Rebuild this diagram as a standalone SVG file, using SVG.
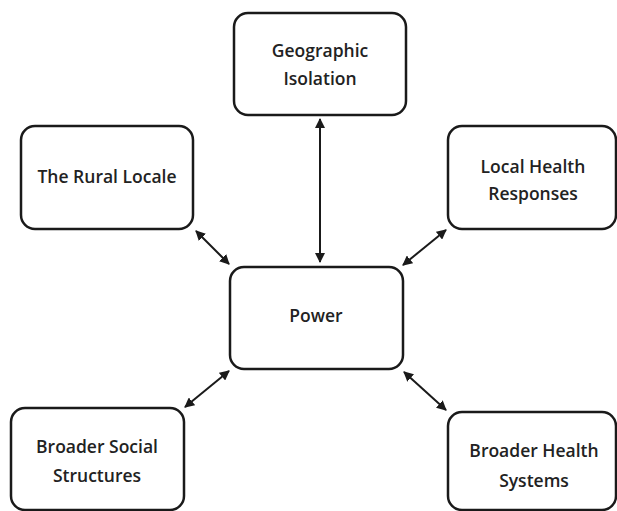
<svg xmlns="http://www.w3.org/2000/svg" width="617" height="511" viewBox="0 0 617 511">
  <style>
    .box { fill: #ffffff; stroke: #1a1a1a; stroke-width: 2.5; }
    .label { font-family: "Open Sans", "Liberation Sans", sans-serif; font-size: 17.5px; font-weight: 600; fill: #222222; text-anchor: middle; }
    .link { stroke: #1a1a1a; stroke-width: 2; fill: none; marker-start: url(#head); marker-end: url(#head); }
  </style>
  <defs>
    <marker id="head" viewBox="0 0 10 10" refX="9" refY="5" markerWidth="5" markerHeight="5" orient="auto-start-reverse" markerUnits="strokeWidth">
      <path d="M0,0 L10,5 L0,10 Z" fill="#1a1a1a"/>
    </marker>
  </defs>
  <rect width="617" height="511" fill="#ffffff"/>

  <g id="connectors">
    <line class="link" x1="320" y1="119" x2="320" y2="262"/>
    <line class="link" x1="196" y1="231" x2="229" y2="264"/>
    <line class="link" x1="446" y1="230" x2="403" y2="265"/>
    <line class="link" x1="229" y1="371" x2="185" y2="407"/>
    <line class="link" x1="404" y1="372" x2="446" y2="410"/>
  </g>

  <g id="geographic-isolation">
    <rect class="box" x="234" y="13" width="172" height="102" rx="14"/>
    <text class="label" x="320" y="57">Geographic</text>
    <text class="label" x="320" y="85">Isolation</text>
  </g>

  <g id="rural-locale">
    <rect class="box" x="21" y="126" width="172" height="103" rx="14"/>
    <text class="label" x="107" y="183">The Rural Locale</text>
  </g>

  <g id="local-health-responses">
    <rect class="box" x="448" y="126" width="168" height="103" rx="14"/>
    <text class="label" x="533" y="173">Local Health</text>
    <text class="label" x="533" y="200">Responses</text>
  </g>

  <g id="power">
    <rect class="box" x="230" y="267" width="173" height="102" rx="14"/>
    <text class="label" x="316" y="322">Power</text>
  </g>

  <g id="broader-social-structures">
    <rect class="box" x="11" y="408" width="173" height="102" rx="14"/>
    <text class="label" x="97" y="453">Broader Social</text>
    <text class="label" x="97" y="482">Structures</text>
  </g>

  <g id="broader-health-systems">
    <rect class="box" x="448" y="412" width="168" height="98" rx="14"/>
    <text class="label" x="534" y="457">Broader Health</text>
    <text class="label" x="534" y="487">Systems</text>
  </g>
</svg>
